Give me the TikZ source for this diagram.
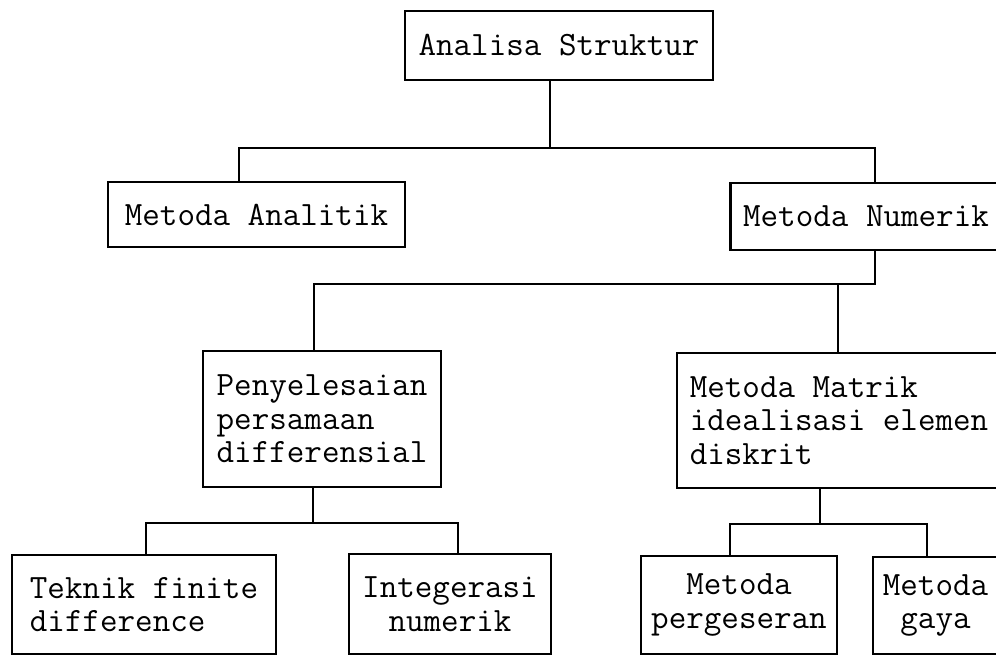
\documentclass[tikz,border=0pt]{standalone}
\usepackage{fontspec}
\usetikzlibrary{calc}

\begin{document}
\begin{tikzpicture}[x=0.02cm,y=-0.02cm,
	kotak/.style={draw, line width=1.2pt, inner sep=0pt, font=\ttfamily\fontsize{19.4}{19}\selectfont\addfontfeature{FakeBold=0.6}},
	garis/.style={line width=1.2pt}]
	\useasboundingbox (0,0) rectangle (996,655);
	\clip (0,0) rectangle (996,655);
% TINGKAT ATAS
	\node [kotak, minimum width=6.16cm, minimum height=1.38cm] (analisa) at (559,45.5) {Analisa Struktur};
	\node [kotak, minimum width=5.94cm, minimum height=1.30cm] (analitik) at (256.5,214.5) {Metoda Analitik};
	\node [kotak, minimum width=5.42cm, minimum height=1.34cm] (numerik) at (866,216.5) {Metoda Numerik};
% TINGKAT TENGAH
	\node [kotak, align=left, minimum width=4.76cm, minimum height=2.72cm] (penyel) at (322,419) {Penyelesaian\\persamaan\\differensial};
	\node [kotak, align=left, minimum width=6.48cm, minimum height=2.70cm] (matrik) at (839,420.5) {Metoda Matrik\\idealisasi elemen\\diskrit};
% TINGKAT BAWAH
	\node [kotak, align=left, minimum width=5.28cm, minimum height=1.98cm] (teknik) at (144,604.5) {Teknik finite\\difference};
	\node [kotak, align=center, minimum width=4.04cm, minimum height=2.0cm] (integ) at (450,604) {Integerasi\\numerik};
	\node [kotak, align=center, minimum width=3.92cm, minimum height=1.96cm] (geser) at (739,605) {Metoda\\pergeseran};
	\node [kotak, align=center, minimum width=2.5cm, minimum height=1.94cm] (gaya) at (935.5,605.5) {Metoda\\gaya};
% GARIS PENGHUBUNG
	\draw [garis] ($(analisa.south)+(-9,0)$) --++ (0,67) -| ($(analitik.north)+(-17.5,0)$);
	\draw [garis] ($(analisa.south)+(-9,0)$) --++ (0,67) -| ($(numerik.north)+(9,0)$);
	\draw [garis] ($(numerik.south)+(9,0)$) --++ (0,33) -| ($(penyel.north)+(-8,0)$);
	\draw [garis] ($(numerik.south)+(9,0)$) --++ (0,33) -| ($(matrik.north)+(-1,0)$);
	\draw [garis] ($(penyel.south)+(-9,0)$) --++ (0,35) -| ($(teknik.north)+(2,0)$);
	\draw [garis] ($(penyel.south)+(-9,0)$) --++ (0,35) -| ($(integ.north)+(8,0)$);
	\draw [garis] ($(matrik.south)+(-19,0)$) --++ (0,35) -| ($(geser.north)+(-9,0)$);
	\draw [garis] ($(matrik.south)+(-19,0)$) --++ (0,35) -| ($(gaya.north)+(-8.5,0)$);
\end{tikzpicture}
\end{document}
